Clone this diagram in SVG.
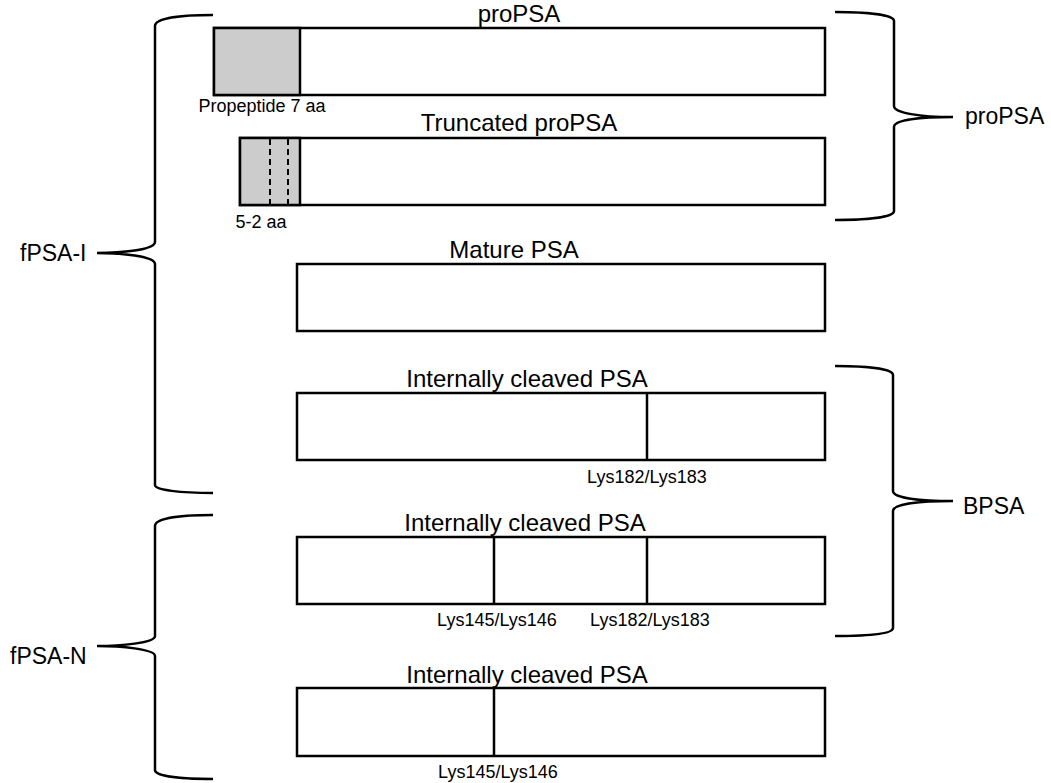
<svg xmlns="http://www.w3.org/2000/svg" width="1051" height="783" viewBox="0 0 1051 783">
<style>
.box{fill:#fff;stroke:#000;stroke-width:2.5}
.pro{fill:#cccccc;stroke:#000;stroke-width:2.5}
.div{stroke:#000;stroke-width:2.5}
.dash{stroke:#000;stroke-width:2;stroke-dasharray:6,4}
.brace{fill:none;stroke:#000;stroke-width:2.5}
.t{font-family:"Liberation Sans",Arial,sans-serif;font-size:24px;fill:#000;text-anchor:middle}
.s{font-family:"Liberation Sans",Arial,sans-serif;font-size:18px;fill:#000;text-anchor:middle}
.g{font-family:"Liberation Sans",Arial,sans-serif;font-size:23px;fill:#000}
</style>
<rect width="1051" height="783" fill="#fff"/>
<g id="propsa">
<rect class="box" x="214" y="28" width="611" height="67"/>
<rect class="pro" x="214" y="28" width="86" height="67"/>
<text class="t" x="519" y="22">proPSA</text>
<text class="s" x="262" y="112">Propeptide 7 aa</text>
</g>
<g id="truncated">
<rect class="box" x="240" y="138" width="585" height="67"/>
<rect class="pro" x="240" y="138" width="60" height="67"/>
<line class="dash" x1="270" y1="139" x2="270" y2="204"/>
<line class="dash" x1="288" y1="139" x2="288" y2="204"/>
<text class="t" x="519" y="131">Truncated proPSA</text>
<text class="s" x="261" y="228">5-2 aa</text>
</g>
<g id="mature">
<rect class="box" x="297" y="264" width="528" height="67"/>
<text class="t" x="514" y="258">Mature PSA</text>
</g>
<g id="ic1">
<rect class="box" x="297" y="393" width="528" height="67"/>
<line class="div" x1="647" y1="393" x2="647" y2="460"/>
<text class="t" x="527" y="387">Internally cleaved PSA</text>
<text class="s" x="647" y="483">Lys182/Lys183</text>
</g>
<g id="ic2">
<rect class="box" x="297" y="537" width="528" height="67"/>
<line class="div" x1="494" y1="537" x2="494" y2="604"/>
<line class="div" x1="647" y1="537" x2="647" y2="604"/>
<text class="t" x="525" y="531">Internally cleaved PSA</text>
<text class="s" x="497" y="626">Lys145/Lys146</text>
<text class="s" x="650" y="626">Lys182/Lys183</text>
</g>
<g id="ic3">
<rect class="box" x="297" y="688" width="528" height="68"/>
<line class="div" x1="494" y1="688" x2="494" y2="756"/>
<text class="t" x="527" y="683">Internally cleaved PSA</text>
<text class="s" x="498" y="778">Lys145/Lys146</text>
</g>
<g id="connectors">
<path class="brace" d="M213,15 C180,15 155,18 155,26 L155,242 C155,250 120,253 97,253 C120,253 155,256 155,264 L155,485 C155,490 180,493 213,493"/>
<path class="brace" d="M213,515 C180,515 155,518 155,526 L155,636 C155,643 120,646 97,646 C120,646 155,649 155,656 L155,770 C155,776 180,779 213,779"/>
<path class="brace" d="M835,12 C868,12 894,15 894,21 L894,106 C894,113 920,117 953,117 C920,117 894,120 894,127 L894,211 C894,217 868,220 835,220"/>
<path class="brace" d="M835,366 C868,366 893,369 893,375 L893,491 C893,498 920,501 953,501 C920,501 893,504 893,511 L893,628 C893,634 868,636 835,636"/>
</g>
<g id="labels">
<text class="g" x="965" y="124">proPSA</text>
<text class="g" x="963" y="514">BPSA</text>
<text class="g" x="20" y="261">fPSA-I</text>
<text class="g" x="10" y="664">fPSA-N</text>
</g>
</svg>
